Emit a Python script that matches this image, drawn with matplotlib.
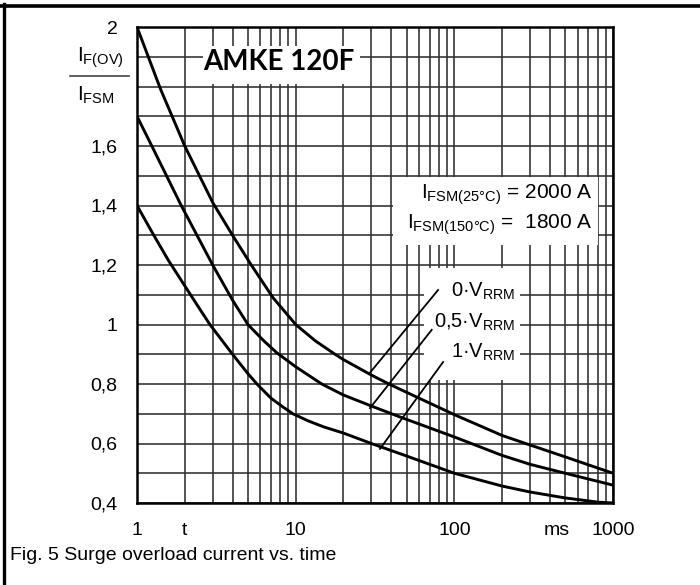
import numpy as np
import matplotlib
matplotlib.use("Agg")
import matplotlib.pyplot as plt
from matplotlib.patches import Rectangle
from matplotlib.lines import Line2D

plt.rcParams['font.family'] = ['Liberation Sans', 'DejaVu Sans']
plt.rcParams['mathtext.fontset'] = 'custom'
plt.rcParams['mathtext.rm'] = 'Liberation Sans'
plt.rcParams['mathtext.it'] = 'Liberation Sans:italic'
plt.rcParams['mathtext.bf'] = 'Liberation Sans:bold'

# curves, t in ms, ratio I_F(OV)/I_FSM
t_0v = [1, 1.41, 2, 3, 4, 5.25, 7.2, 10, 13.3, 17.7, 20, 30, 38.7, 50, 100, 200, 300, 500, 1000]
v_0v = [2.0, 1.79, 1.6, 1.41, 1.3, 1.2, 1.09, 1.0, 0.945, 0.9, 0.882, 0.83, 0.8, 0.772, 0.697, 0.627, 0.595, 0.555, 0.5]

t_05v = [1, 1.24, 1.9, 3, 4, 5, 6.3, 7.6, 10, 14.6, 20, 30, 45, 100, 200, 300, 500, 1000]
v_05v = [1.7, 1.6, 1.4, 1.2, 1.082, 1.0, 0.945, 0.905, 0.858, 0.8, 0.763, 0.726, 0.69, 0.622, 0.56, 0.53, 0.5, 0.46]

t_1v = [1, 1.26, 1.58, 2, 2.5, 2.88, 4, 5, 5.7, 7, 8.3, 9.6, 12, 15, 20, 30, 50, 100, 200, 300, 500, 800, 1000]
v_1v = [1.4, 1.305, 1.215, 1.13, 1.05, 1.0, 0.9, 0.835, 0.8, 0.752, 0.723, 0.7, 0.676, 0.656, 0.635, 0.6, 0.558, 0.5, 0.457, 0.437, 0.417, 0.403, 0.4]

# leader lines from curves to labels
lead_t0 = [29.4, 29.4, 34]
lead_v0 = [0.838, 0.719, 0.582]
lead_t1 = [79, 72, 85]
lead_v1 = [1.116, 0.982, 0.874]
lead_labels = ['$\\mathrm{0·V_{RRM}}$', '$\\mathrm{0{,}5·V_{RRM}}$', '$\\mathrm{1·V_{RRM}}$']

xtick_pos = [1, 2, 10, 100, 440, 1000]
xtick_labels = ['1', 't', '10', '100', 'ms', '1000']
ytick_pos = [0.4, 0.6, 0.8, 1.0, 1.2, 1.4, 1.6, 2.0]
ytick_labels = ['0,4', '0,6', '0,8', '1', '1,2', '1,4', '1,6', '2']

W, H = 700, 585
fig = plt.figure(figsize=(7, 5.85), dpi=100)
ax = fig.add_axes([137 / W, 1 - 503 / H, 476 / W, 476 / H])
ax.set_xscale('log')
ax.set_xlim(1, 1000)
ax.set_ylim(0.4, 2.0)

gridc = '#2e2e2e'
grid_x = [m * 10 ** e for e in range(3) for m in range(1, 10)] + [1000]
ax.vlines(grid_x, 0.4, 2.0, color=gridc, lw=1.15, zorder=0.5)
ax.hlines(np.arange(0.4, 2.001, 0.1), 1, 1000, color=gridc, lw=1.15, zorder=0.5)

ax.set_xticks(xtick_pos)
ax.set_xticklabels(xtick_labels)
ax.xaxis.set_minor_locator(matplotlib.ticker.NullLocator())
ax.set_yticks(ytick_pos)
ax.set_yticklabels(ytick_labels)
ax.yaxis.set_minor_locator(matplotlib.ticker.NullLocator())
ax.tick_params(axis='both', length=0, labelsize=14)
ax.tick_params(axis='x', pad=14)
ax.tick_params(axis='y', pad=14)
for s in ax.spines.values():
    s.set_linewidth(1.8)
    s.set_zorder(5)

# white areas behind the annotations
for (x0, y0, x1, y1) in [(0.139, 0.880, 0.468, 0.960),
                         (0.538, 0.542, 0.968, 0.685),
                         (0.603, 0.258, 0.805, 0.494)]:
    ax.add_patch(Rectangle((x0, y0), x1 - x0, y1 - y0, transform=ax.transAxes,
                           facecolor='white', edgecolor='none', zorder=1))

for t, v in [(t_0v, v_0v), (t_05v, v_05v), (t_1v, v_1v)]:
    ax.plot(t, v, color='black', lw=2.1, zorder=3, solid_joinstyle='round')

for i in range(3):
    ax.plot([lead_t0[i], lead_t1[i]], [lead_v0[i], lead_v1[i]], color='black', lw=1.3, zorder=3)

label_y = [0.433, 0.368, 0.305]
for lab, y in zip(lead_labels, label_y):
    ax.text(0.794, y, lab, transform=ax.transAxes, ha='right', va='baseline',
            fontsize=14.5, zorder=4)

ax.text(0.958, 0.639, '$\\mathrm{I_{FSM(25°C)}}$ = 2000 A', transform=ax.transAxes,
        ha='right', va='baseline', fontsize=15, zorder=4)
ax.text(0.958, 0.576, '$\\mathrm{I_{FSM(150°C)}}$ =  1800 A', transform=ax.transAxes,
        ha='right', va='baseline', fontsize=15, zorder=4)

ax.text(0.298, 0.926, 'AMKE 120F', transform=ax.transAxes, ha='center', va='center',
        fontsize=20, fontweight='bold', family='Lato', zorder=4)

# y axis quantity as a fraction
fig.text(77 / W, 1 - 62 / H, '$\\mathrm{I_{F(OV)}}$', fontsize=15, va='baseline')
fig.text(77 / W, 1 - 101 / H, '$\\mathrm{I_{FSM}}$', fontsize=15, va='baseline')
fig.add_artist(Line2D([70 / W, 129 / W], [1 - 75.7 / H, 1 - 75.7 / H],
                      transform=fig.transFigure, color='#444444', lw=1.2))

fig.text(10 / W, 1 - 560 / H, 'Fig. 5 Surge overload current vs. time', fontsize=14, va='baseline')

# frame of the figure
fig.add_artist(Line2D([0, 1], [1 - 5.5 / H, 1 - 5.5 / H], transform=fig.transFigure,
                      color='black', lw=2.6))
fig.add_artist(Line2D([3.5 / W, 3.5 / W], [0, 1 - 4 / H], transform=fig.transFigure,
                      color='black', lw=2.4))

fig.savefig('out.png', dpi=100)
